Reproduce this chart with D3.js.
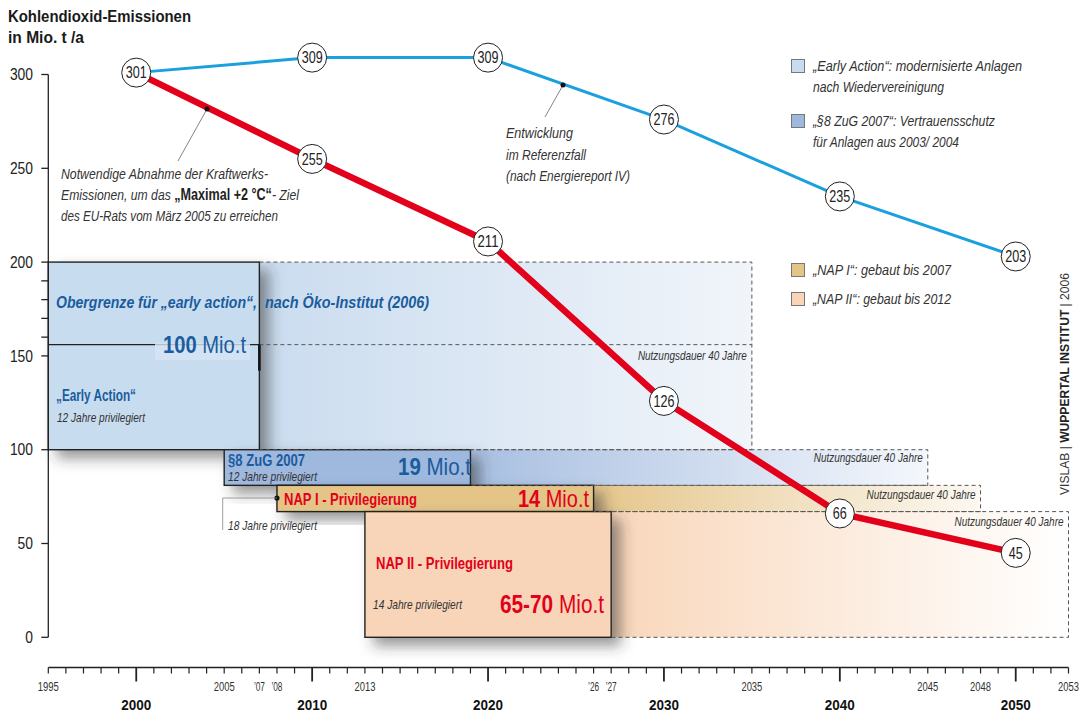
<!DOCTYPE html>
<html><head><meta charset="utf-8">
<script src="https://cdn.jsdelivr.net/npm/d3@7"></script>
<style>body{margin:0;background:#fff}svg{display:block}</style>
</head><body>
<svg id="chart" width="1080" height="715"></svg>
<script>
const FONT = '"Liberation Sans", Arial, sans-serif';

// ---------- data ----------
const years = [2000, 2010, 2020, 2030, 2040, 2050];
const referenceCase = [301, 309, 309, 276, 235, 203];
const targetPath = [301, 255, 211, 126, 66, 45];

const yTickValues = [0, 50, 100, 150, 200, 250, 300];
const yMinorTickValues = [160, 170, 180, 190];
const xSmallTickYears = [1995, 2005, 2007, 2008, 2013, 2026, 2027, 2035, 2045, 2048, 2053];
const xSmallTickLabels = ["1995", "2005", "\u201907", "\u201908", "2013", "\u201926", "\u201927", "2035", "2045", "2048", "2053"];
const xDecadeYears = [2000, 2010, 2020, 2030, 2040, 2050];

const blockNames = ["Early Action", "§8 ZuG 2007", "NAP I", "NAP II"];
const blockStartYear = [1995, 2005, 2008, 2013];
const blockEndYear = [2007, 2019, 2026, 2027];
const blockTop = [200, 100, 81, 67];
const blockBottom = [100, 81, 67, 0];
const lifetimeEndYear = [2035, 2045, 2048, 2053];
const blockAmount = ["100", "19", "14", "65-70"];
const earlyActionDivider = 156;

const legendLabels = [
  ["\u201EEarly Action\u201C:  modernisierte Anlagen", "nach Wiedervereinigung"],
  ["\u201E§8 ZuG 2007\u201C:  Vertrauensschutz", "für Anlagen aus 2003/ 2004"],
  ["\u201ENAP I\u201C:  gebaut bis 2007"],
  ["\u201ENAP II\u201C: gebaut bis 2012"]
];

// ---------- styles ----------
const boxFill = ["#c8dcf0", "#9fb8de", "#e4c487", "#f8d5b8"];
const gradFrom = ["#cadcef", "#a8bfe1", "#e5c68c", "#f9d7bb"];
const gradTo = ["#f1f5fa", "#f4f7fc", "#fcf8f1", "#ffffff"];
const blueText = "#1a5c9e";
const redText = "#e2001a";

const svg = d3.select("#chart");
const x = d3.scaleLinear().domain([1995, 2053]).range([48.3, 1068.5]);
const y = d3.scaleLinear().domain([0, 300]).range([637.3, 74.5]);

const defs = svg.append("defs");
const f = defs.append("filter").attr("id", "shadow").attr("x", "-20%").attr("y", "-30%").attr("width", "150%").attr("height", "180%");
f.append("feDropShadow").attr("dx", 9).attr("dy", 8).attr("stdDeviation", 7)
  .attr("flood-color", "#333").attr("flood-opacity", 0.5);
blockNames.forEach((n, i) => {
  const g = defs.append("linearGradient").attr("id", "grad" + i).attr("x1", 0).attr("x2", 1).attr("y1", 0).attr("y2", 0);
  g.append("stop").attr("offset", 0).attr("stop-color", gradFrom[i]);
  g.append("stop").attr("offset", 1).attr("stop-color", gradTo[i]);
});

function fitW(t, w) {
  if (w) t.attr("textLength", w).attr("lengthAdjust", "spacingAndGlyphs");
  return t;
}
function txt(parent, xx, yy, s, opt = {}) {
  const t = parent.append("text").attr("x", xx).attr("y", yy)
    .attr("font-family", FONT).attr("font-size", opt.size || 14)
    .attr("font-weight", opt.weight || "normal").attr("font-style", opt.style || "normal")
    .attr("fill", opt.fill || "#222").attr("text-anchor", opt.anchor || "start")
    .attr("dy", opt.dy === undefined ? "0.35em" : opt.dy).text(s);
  return fitW(t, opt.w);
}

// ---------- title ----------
txt(svg, 8, 21.5, "Kohlendioxid-Emissionen", { size: 16, weight: "bold", dy: 0, w: 183, fill: "#1a1a1a" });
txt(svg, 8, 42.5, "in Mio. t /a", { size: 16, weight: "bold", dy: 0, w: 76, fill: "#1a1a1a" });

// ---------- lifetime regions ----------
const regions = svg.append("g");
blockNames.forEach((n, i) => {
  regions.append("rect")
    .attr("x", x(blockEndYear[i])).attr("y", y(blockTop[i]))
    .attr("width", x(lifetimeEndYear[i]) - x(blockEndYear[i]))
    .attr("height", y(blockBottom[i]) - y(blockTop[i]))
    .attr("fill", `url(#grad${i})`);
});

// ---------- blocks ----------
const blocks = svg.append("g");
blockNames.forEach((n, i) => {
  blocks.append("rect")
    .attr("x", x(blockStartYear[i])).attr("y", y(blockTop[i]))
    .attr("width", x(blockEndYear[i]) - x(blockStartYear[i]))
    .attr("height", y(blockBottom[i]) - y(blockTop[i]))
    .attr("fill", boxFill[i]).attr("stroke", "#222").attr("stroke-width", 1.4)
    .attr("filter", "url(#shadow)");
});

// dashed outlines
const dashes = svg.append("g").attr("fill", "none").attr("stroke", "#555").attr("stroke-width", 1).attr("stroke-dasharray", "4,3");
blockNames.forEach((n, i) => {
  const x0 = x(blockEndYear[i]), x1 = x(lifetimeEndYear[i]);
  const y0 = y(blockTop[i]), y1 = y(blockBottom[i]);
  dashes.append("path").attr("d", `M${x0},${y0}H${x1}V${y1}H${x0}`);
});
dashes.append("line").attr("x1", x(blockEndYear[0])).attr("x2", x(lifetimeEndYear[0]))
  .attr("y1", y(earlyActionDivider)).attr("y2", y(earlyActionDivider));

// early action divider (solid part)
svg.append("line").attr("x1", x(1995)).attr("x2", x(blockEndYear[0]))
  .attr("y1", y(earlyActionDivider)).attr("y2", y(earlyActionDivider))
  .attr("stroke", "#222").attr("stroke-width", 1.4);
svg.append("rect").attr("x", 155).attr("y", y(earlyActionDivider) - 1.5).attr("width", 95).attr("height", 17)
  .attr("fill", "#d6e5f4").attr("opacity", 0.8);
svg.append("line").attr("x1", x(blockEndYear[0])).attr("x2", x(blockEndYear[0]))
  .attr("y1", y(earlyActionDivider)).attr("y2", y(earlyActionDivider) + 26)
  .attr("stroke", "#111").attr("stroke-width", 2.6);

// ---------- axes ----------
const axes = svg.append("g").attr("stroke", "#222").attr("stroke-width", 1.3);
axes.append("line").attr("x1", x(1995)).attr("x2", x(1995)).attr("y1", y(300)).attr("y2", y(0));
yTickValues.concat(yMinorTickValues).forEach(v => {
  axes.append("line").attr("x1", x(1995) - 7).attr("x2", x(1995)).attr("y1", y(v)).attr("y2", y(v));
});
yTickValues.forEach(v => txt(svg, 33, y(v), String(v), { size: 16, anchor: "end", fill: "#222", w: String(v).length * 7.7 }));

const axisY = 667.5;
axes.append("line").attr("x1", x(1995)).attr("x2", x(2053)).attr("y1", axisY).attr("y2", axisY).attr("stroke-width", 1.6);
d3.range(1995, 2054).forEach(yr => {
  const major = xDecadeYears.includes(yr);
  axes.append("line").attr("x1", x(yr)).attr("x2", x(yr)).attr("y1", axisY).attr("y2", axisY + (major ? 14 : 6))
    .attr("stroke-width", major ? 1.8 : 1.2);
});
xSmallTickYears.forEach((yr, i) => {
  const s = xSmallTickLabels[i];
  txt(svg, x(yr), 687, s, { size: 12, anchor: "middle", fill: "#333", w: s.length === 4 ? 21 : 11 });
});
xDecadeYears.forEach(yr => txt(svg, x(yr), 705, String(yr), { size: 15, weight: "bold", anchor: "middle", fill: "#111", w: 30 }));

// ---------- block texts ----------
txt(svg, 56, 302, "Obergrenze für \u201Eearly action\u201C,", { size: 16, weight: "bold", style: "italic", fill: blueText, w: 201 });
txt(svg, 265, 302, "nach Öko-Institut (2006)", { size: 16, weight: "bold", style: "italic", fill: blueText, w: 164 });
function amount(xx, yy, num, size, fill, w) {
  const t = svg.append("text").attr("x", xx).attr("y", yy).attr("text-anchor", "end")
    .attr("font-family", FONT).attr("font-size", size).attr("fill", fill);
  t.append("tspan").attr("font-weight", "bold").text(num);
  t.append("tspan").text(" Mio.t");
  fitW(t, w);
}
amount(246, 353, blockAmount[0], 24, blueText, 83);
txt(svg, 56, 395, "\u201E" + blockNames[0] + "\u201C", { size: 17, weight: "bold", fill: blueText, w: 80 });
txt(svg, 57, 417, "12 Jahre privilegiert", { size: 13.5, style: "italic", fill: "#333", w: 88 });

txt(svg, 228, 460, blockNames[1], { size: 16, weight: "bold", fill: blueText, w: 77 });
txt(svg, 228, 476.5, "12 Jahre privilegiert", { size: 13.5, style: "italic", fill: "#333", w: 89 });
amount(471, 474.5, blockAmount[1], 24, blueText, 73);

svg.append("circle").attr("cx", x(2008)).attr("cy", 498).attr("r", 2.6).attr("fill", "#111");
svg.append("path").attr("d", `M${x(2008)},498H${x(2005) - 1.5}V530`).attr("fill", "none").attr("stroke", "#888").attr("stroke-width", 0.8);
txt(svg, 284, 499, blockNames[2] + " - Privilegierung", { size: 17, weight: "bold", fill: redText, w: 133 });
amount(589, 507, blockAmount[2], 24, redText, 71);
txt(svg, 228, 525, "18 Jahre privilegiert", { size: 13.5, style: "italic", fill: "#333", w: 89 });

txt(svg, 376, 563, blockNames[3] + " - Privilegierung", { size: 17, weight: "bold", fill: redText, w: 137 });
txt(svg, 373, 604.5, "14 Jahre privilegiert", { size: 13.5, style: "italic", fill: "#333", w: 89 });
amount(604, 613, blockAmount[3], 25, redText, 104);

const nutzY = [355, 457, 494, 521];
blockNames.forEach((n, i) => txt(svg, x(lifetimeEndYear[i]) - 5, nutzY[i], "Nutzungsdauer 40 Jahre",
  { size: 13, style: "italic", anchor: "end", fill: "#333", w: 109 }));

// ---------- lines ----------
const line = d3.line().x((d, i) => x(years[i])).y(d => y(d));
svg.append("path").datum(referenceCase).attr("d", line).attr("fill", "none").attr("stroke", "#1a9fdf").attr("stroke-width", 3);
svg.append("path").datum(targetPath).attr("d", line).attr("fill", "none").attr("stroke", "#e2001a").attr("stroke-width", 6.5);

// ---------- annotations ----------
svg.append("line").attr("x1", 207).attr("y1", 109).attr("x2", 178).attr("y2", 161).attr("stroke", "#666").attr("stroke-width", 0.8);
svg.append("circle").attr("cx", 207).attr("cy", 109).attr("r", 2.5).attr("fill", "#111");
txt(svg, 61, 174, "Notwendige Abnahme der Kraftwerks-", { size: 15.5, style: "italic", fill: "#333", w: 207 });
const a2 = svg.append("text").attr("x", 61).attr("y", 195).attr("dy", "0.35em").attr("font-family", FONT).attr("font-size", 15.5).attr("fill", "#333");
a2.append("tspan").attr("font-style", "italic").text("Emissionen, um das ");
a2.append("tspan").attr("font-weight", "bold").attr("fill", "#222").attr("font-size", 16).text("\u201EMaximal +2 °C\u201C");
a2.append("tspan").attr("font-style", "italic").text("- Ziel");
fitW(a2, 238);
txt(svg, 61, 216, "des EU-Rats vom März 2005 zu erreichen", { size: 15.5, style: "italic", fill: "#333", w: 217 });

svg.append("line").attr("x1", 563).attr("y1", 85).attr("x2", 545).attr("y2", 117).attr("stroke", "#666").attr("stroke-width", 0.8);
svg.append("circle").attr("cx", 563).attr("cy", 85).attr("r", 2.5).attr("fill", "#111");
const refNote = ["Entwicklung", "im Referenzfall", "(nach Energiereport IV)"];
const refNoteW = [67, 80, 124];
refNote.forEach((s, i) => txt(svg, 506, 133 + i * 21.5, s, { size: 15.5, style: "italic", fill: "#333", w: refNoteW[i] }));

// ---------- legend ----------
const legendY = [66, 121, 270, 299];
const legendW = [[209, 131], [182, 146], [138], [138]];
legendLabels.forEach((lines, i) => {
  svg.append("rect").attr("x", 791.5).attr("y", legendY[i] - 6.5).attr("width", 13).attr("height", 13)
    .attr("fill", boxFill[i]).attr("stroke", "#777").attr("stroke-width", 1);
  lines.forEach((s, j) => txt(svg, 813, legendY[i] + j * 20.5, s, { size: 14.5, style: "italic", fill: "#333", w: legendW[i][j] }));
});

// ---------- credit ----------
const cr = svg.append("text").attr("transform", "translate(1069,384) rotate(-90)").attr("text-anchor", "middle")
  .attr("font-family", FONT).attr("font-size", 12.5).attr("fill", "#333").attr("dy", 0);
cr.append("tspan").text("VISLAB  |  ");
cr.append("tspan").attr("font-weight", "bold").attr("fill", "#222").text("WUPPERTAL INSTITUT");
cr.append("tspan").text("  |  2006");
fitW(cr, 222);

// ---------- value markers ----------
function markers(vals, skipFirst) {
  vals.forEach((v, i) => {
    if (skipFirst && i === 0) return;
    svg.append("circle").attr("cx", x(years[i])).attr("cy", y(v)).attr("r", 14.5)
      .attr("fill", "#fff").attr("stroke", "#222").attr("stroke-width", 1);
    txt(svg, x(years[i]), y(v), String(v), { size: 16.5, anchor: "middle", fill: "#222", w: String(v).length * 7 });
  });
}
markers(referenceCase, false);
markers(targetPath, true);
</script>
</body></html>
